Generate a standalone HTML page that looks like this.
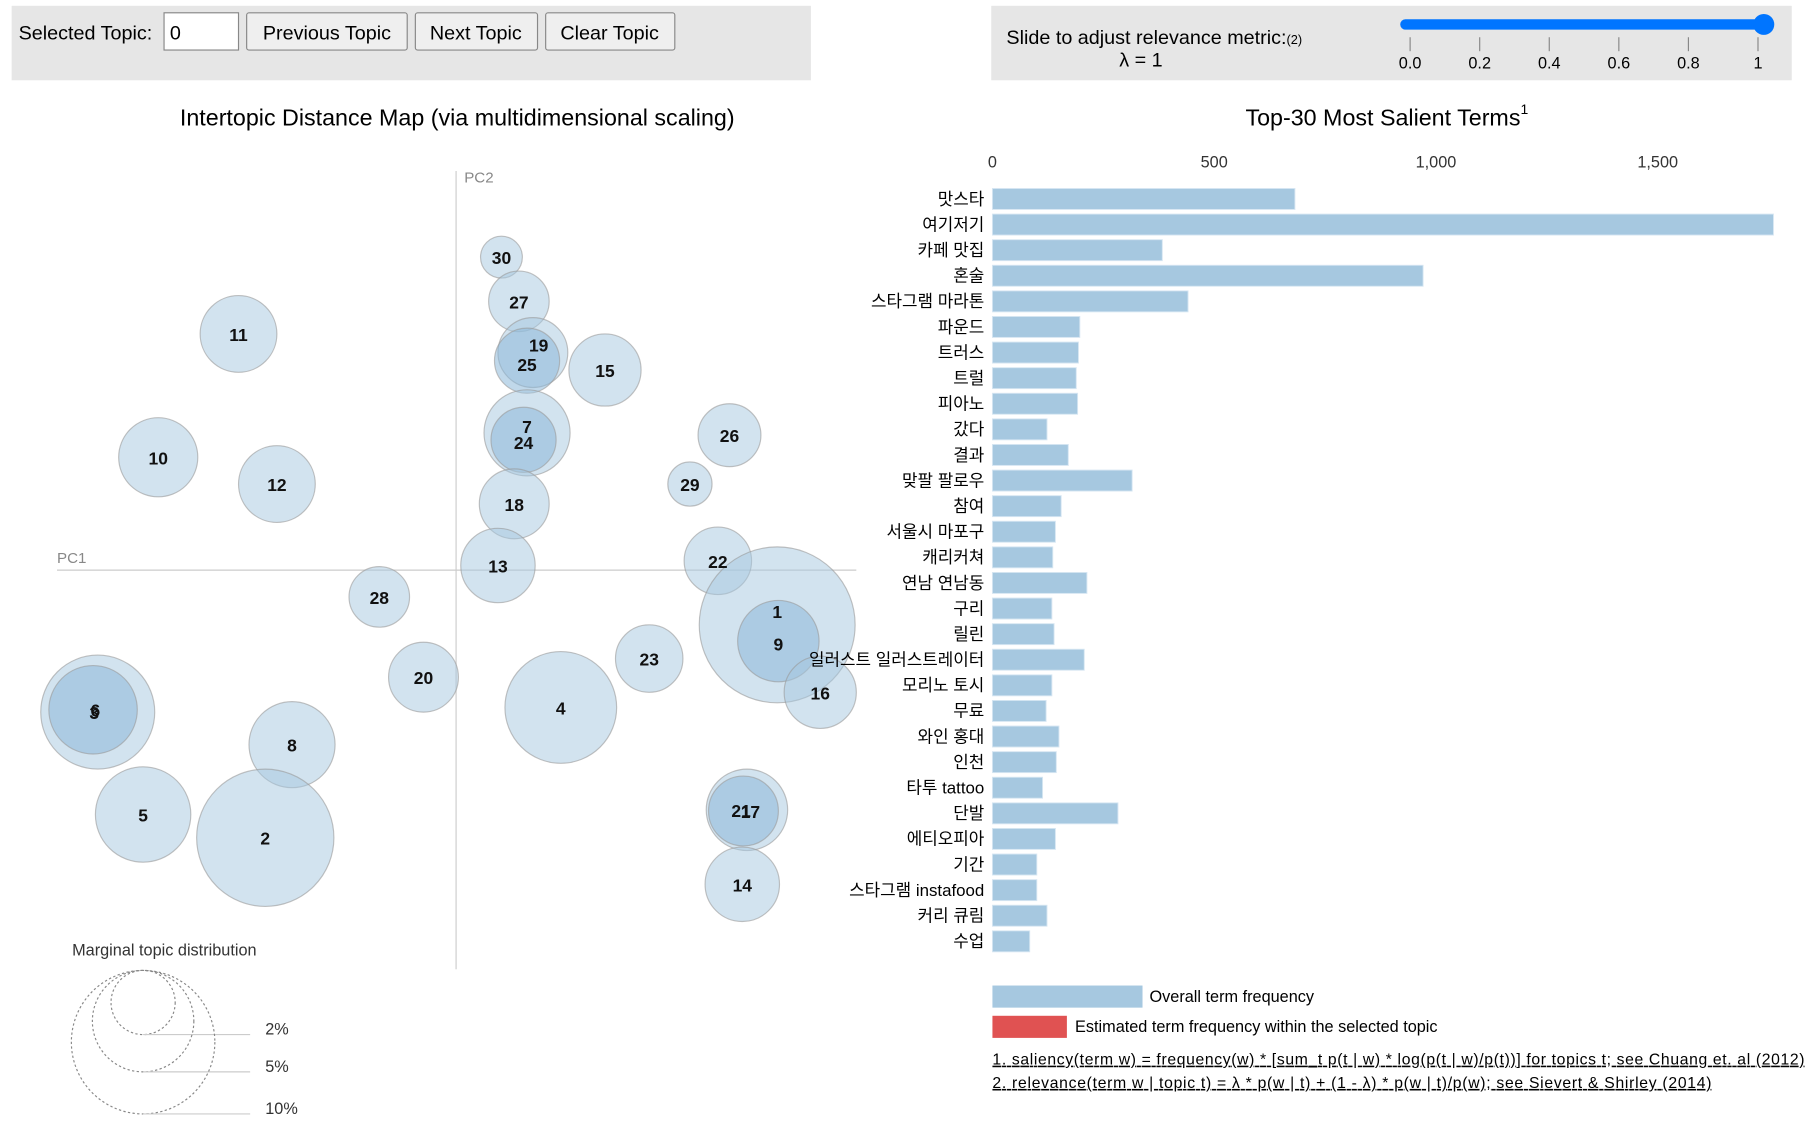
<!DOCTYPE html>
<html><head><meta charset="utf-8"><style>
html,body{margin:0;padding:0;background:#fff;width:1815px;height:1129px;overflow:hidden}
svg{display:block;font-family:"Liberation Sans","Noto Sans CJK KR",sans-serif}
</style></head><body>
<svg id="root" width="1815" height="1129" viewBox="0 0 1560 970.3" preserveAspectRatio="none">
<g>
<rect x="10" y="5" width="687" height="64" fill="#e6e6e6"/>
<text x="16" y="34" font-size="17" fill="#000">Selected Topic:</text>
<rect x="141" y="11" width="64" height="32" fill="#fff" stroke="#888"/>
<text x="146" y="34" font-size="17">0</text>
<rect x="212" y="11" width="138" height="32" fill="#efefef" stroke="#888" rx="2"/>
<text x="281" y="34" font-size="17" text-anchor="middle">Previous Topic</text>
<rect x="357" y="11" width="105" height="32" fill="#efefef" stroke="#888" rx="2"/>
<text x="409" y="34" font-size="17" text-anchor="middle">Next Topic</text>
<rect x="469" y="11" width="111" height="32" fill="#efefef" stroke="#888" rx="2"/>
<text x="524" y="34" font-size="17" text-anchor="middle">Clear Topic</text>
</g>
<g>
<rect x="852" y="5" width="688" height="64" fill="#e6e6e6"/>
<text x="865" y="38" font-size="17">Slide to adjust relevance metric:<tspan font-size="11">(2)</tspan></text>
<text x="962" y="57" font-size="17">λ = 1</text>
<line x1="1208" y1="21" x2="1516" y2="21" stroke="#0075ff" stroke-width="9" stroke-linecap="round"/>
<circle cx="1516" cy="21" r="9" fill="#0075ff"/>
<g id="sliderTicks"></g>
</g>
<text x="393" y="108" font-size="20" text-anchor="middle">Intertopic Distance Map (via multidimensional scaling)</text>
<line x1="392" y1="147" x2="392" y2="833" stroke="#ccc"/>
<line x1="49" y1="490" x2="736" y2="490" stroke="#ccc"/>
<text x="399" y="157" font-size="13" fill="#888">PC2</text>
<text x="49" y="484" font-size="13" fill="#888">PC1</text>
<g id="bubbles"></g>
<g id="bubbleLabels"></g>
<g>
<text x="62" y="821" font-size="14" fill="#333">Marginal topic distribution</text>
<g id="sizeLegend"></g>
</g>
<text x="1192" y="108" font-size="20" text-anchor="middle">Top-30 Most Salient Terms<tspan font-size="12" dy="-10">1</tspan></text>
<g id="xTicks"></g>
<g id="bars"></g>
<g>
<rect x="853" y="847" width="129" height="19" fill="#a6c8e0"/>
<text x="988" y="861" font-size="14">Overall term frequency</text>
<rect x="853" y="873" width="64" height="19" fill="#e05252"/>
<text x="924" y="887" font-size="14">Estimated term frequency within the selected topic</text>
<text x="853" y="915" font-size="13.5" text-decoration="underline" textLength="698">1. saliency(term w) = frequency(w) * [sum_t p(t | w) * log(p(t | w)/p(t))] for topics t; see Chuang et. al (2012)</text>
<text x="853" y="935" font-size="13.5" text-decoration="underline" textLength="618">2. relevance(term w | topic t) = λ * p(w | t) + (1 - λ) * p(w | t)/p(w); see Sievert &amp; Shirley (2014)</text>
</g>
</svg>
<script>
const NS='http://www.w3.org/2000/svg';
const topics=['30','27','19','25','15','11','10','12','26','7','24','29','18','13','22','1','9','28','20','23','16','4','6','3','8','5','2','21','17','14'];
const pc1=[0.39,0.54,0.66,0.61,1.28,-1.87,-2.56,-1.54,2.35,0.61,0.58,2.01,0.50,0.36,2.25,2.76,2.77,-0.66,-0.28,1.66,3.13,0.90,-3.08,-3.12,-1.41,-2.69,-1.64,2.50,2.47,2.46];
const pc2=[2.69,2.31,1.87,1.80,1.72,2.03,0.97,0.74,1.16,1.18,1.12,0.74,0.57,0.04,0.08,-0.47,-0.61,-0.23,-0.92,-0.76,-1.05,-1.18,-1.22,-1.20,-1.50,-2.10,-2.30,-2.06,-2.07,-2.70];
const pct=[0.85,1.78,2.37,2.06,2.53,2.86,3.04,2.86,1.92,3.6,2.06,0.95,2.37,2.69,2.21,11.8,3.22,1.78,2.37,2.21,2.53,6.06,6.31,3.8,3.6,4.42,9.15,3.22,2.37,2.69];
const dark=['25','24','9','3','17'];
const labelDy={'7':-6,'24':2,'19':-7,'25':3,'1':-12,'9':2,'6':-2,'3':2,'21':0,'17':0};
const labelDx={'19':5,'21':-5,'17':6,'6':-2,'3':1};
const legendPct=[2,5,10];
const legendLabels=['2%','5%','10%'];
const terms=['맛스타','여기저기','카페 맛집','혼술','스타그램 마라톤','파운드','트러스','트럴','피아노','갔다','결과','맞팔 팔로우','참여','서울시 마포구','캐리커쳐','연남 연남동','구리','릴린','일러스트 일러스트레이터','모리노 토시','무료','와인 홍대','인천','타투 tattoo','단발','에티오피아','기간','스타그램 instafood','커리 큐림','수업'];
const freq=[682,1761,383,971,441,197,194,189,192,123,171,315,155,142,136,213,134,139,207,134,121,150,144,113,283,142,100,100,123,84];
const xTickVals=[0,500,1000,1500];
const xTickLabels=['0','500','1,000','1,500'];
const sliderVals=[0,0.2,0.4,0.6,0.8,1];
const sliderLabels=['0.0','0.2','0.4','0.6','0.8','1'];

const px=v=>392+v*100, py=v=>490-v*100, rad=p=>19.5*Math.sqrt(p);
const bx=v=>853+v*0.3812, by=i=>171+i*22;
const sx=v=>1212+v*299;
function mk(tag,attrs,parent,text){const e=document.createElementNS(NS,tag);for(const k in attrs)e.setAttribute(k,attrs[k]);if(text!==undefined)e.textContent=text;parent.appendChild(e);return e;}

const st=document.getElementById('sliderTicks');
sliderVals.forEach((v,i)=>{
 const l=mk('line',{x1:sx(v),x2:sx(v),y1:32,y2:44,stroke:'#888'},st);
 
 
 const t=mk('text',{x:sx(v),y:59,'font-size':14,'text-anchor':'middle'},st,sliderLabels[i]);
 
 
});

const bg=document.getElementById('bubbles'), lg=document.getElementById('bubbleLabels');
topics.forEach((t,i)=>{
 const isDark=dark.includes(t);
 const c=mk('circle',{cx:px(pc1[i]),cy:py(pc2[i]),r:rad(pct[i]),fill:isDark?'#8db8d8':'#a6c8e0','fill-opacity':isDark?0.55:0.5,stroke:'#999','stroke-opacity':0.6,'stroke-width':1},bg);
 
 
 const tx=mk('text',{x:px(pc1[i])+(labelDx[t]||0),y:py(pc2[i])+6+(labelDy[t]||0),'font-size':15,'font-weight':'bold','text-anchor':'middle',fill:'#111'},lg,t);
 
 
});

const sl=document.getElementById('sizeLegend');
legendPct.forEach((p,i)=>{
 const r=rad(p), cy=834+r;
 const c=mk('circle',{cx:123,cy:cy,r:r,fill:'none',stroke:'#888','stroke-dasharray':'2,2'},sl);
 
 
 const l=mk('line',{x1:123,x2:215,y1:cy+r,y2:cy+r,stroke:'#ccc'},sl);
 
 
 const tx=mk('text',{x:228,y:cy+r,'font-size':14,fill:'#333'},sl,legendLabels[i]);
 
 
});

const xt=document.getElementById('xTicks');
xTickVals.forEach((v,i)=>{
 const t=mk('text',{x:bx(v),y:144,'font-size':14,'text-anchor':'middle',fill:'#333'},xt,xTickLabels[i]);
 
 
});

const bs=document.getElementById('bars');
terms.forEach((term,i)=>{
 const r=mk('rect',{x:bx(0),y:by(i)-9,width:bx(freq[i])-bx(0),height:18,fill:'#a6c8e0',stroke:'#d6e6f2','stroke-width':0.8},bs);
 
 
 const t=mk('text',{x:846,y:by(i)+5,'font-size':14.5,'text-anchor':'end',fill:'#000'},bs,term);
 
 
});
</script>
</body></html>
